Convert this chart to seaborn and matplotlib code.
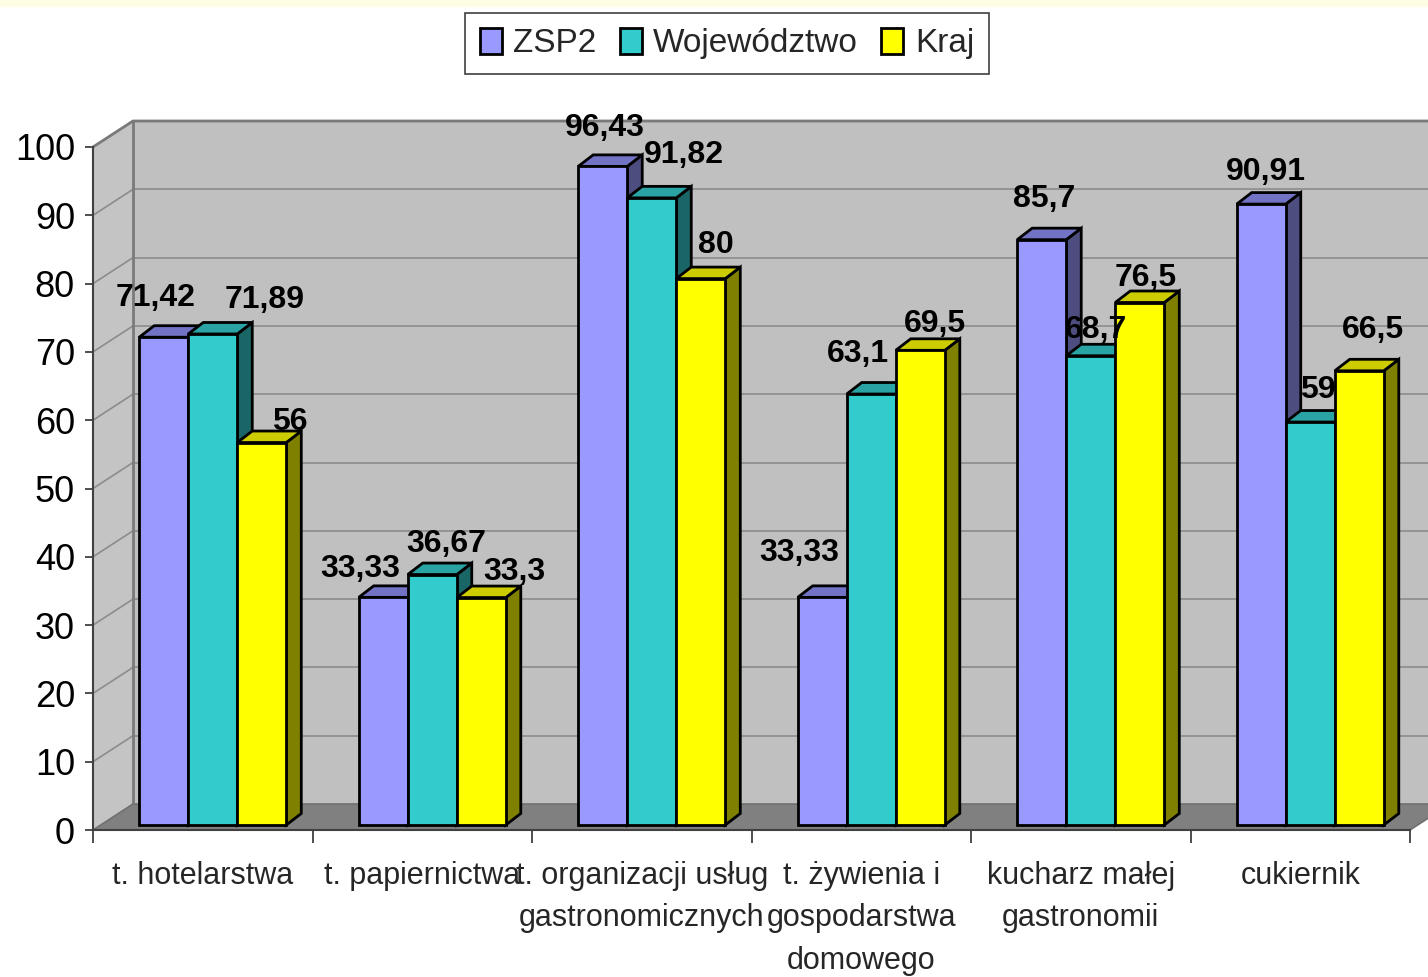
import matplotlib
matplotlib.use("Agg")
import matplotlib.pyplot as plt
from matplotlib import font_manager
from matplotlib.patches import Polygon, Patch, Rectangle
import numpy as np
import pandas as pd
import seaborn as sns

# ---------------- data ----------------
categories = [
    "t. hotelarstwa",
    "t. papiernictwa",
    "t. organizacji usług\ngastronomicznych",
    "t. żywienia i\ngospodarstwa\ndomowego",
    "kucharz małej\ngastronomii",
    "cukiernik",
]
series = ["ZSP2", "Województwo", "Kraj"]
zsp2 = [71.42, 33.33, 96.43, 33.33, 85.7, 90.91]
wojewodztwo = [71.89, 36.67, 91.82, 63.1, 68.7, 59]
kraj = [56, 33.3, 80, 69.5, 76.5, 66.5]
y_ticks = [0, 10, 20, 30, 40, 50, 60, 70, 80, 90, 100]

# ---------------- style ----------------
front_colors = ["#9999FF", "#33CCCC", "#FFFF00"]
top_colors = ["#7373C6", "#29A3A3", "#CCCC00"]
side_colors = ["#4D4D80", "#1A6666", "#808000"]
# label nudges in pixels (dx, dy above bar top), per category, per series
label_nudge_px = [
    [(-8, 31), (52, 26), (28, 13)],
    [(-23, 20), (14, 23), (33, 18)],
    [(2, 30), (32, 35), (15, 26)],
    [(-23, 36), (-13, 32), (15, 18)],
    [(2, 33), (5, 18), (6, 17)],
    [(5, 24), (8, 24), (14, 33)],
]

sns.set_theme(style="white")
plt.rcParams["font.family"] = ["Liberation Sans", "DejaVu Sans"]
available = {f.name for f in font_manager.fontManager.ttflist}
narrow = "Liberation Sans Narrow" in available

W, H = 1428, 977
fig = plt.figure(figsize=(W / 100, H / 100), dpi=100)
fig.patch.set_facecolor("white")
fig.patches.append(Rectangle((0, 1 - 6 / H), 1, 6 / H, transform=fig.transFigure,
                             color="#FFFCE6", zorder=0))

ax = fig.add_axes([93 / W, (H - 830) / H, 1317 / W, 683 / H])
ax.set_xlim(-0.5, 5.5)
ax.set_ylim(0, 100)
ax.set_facecolor("none")
PX = 6 / 1317      # data units per pixel (x)
PY = 100 / 683     # data units per pixel (y)

# walls
DX, DY = 40 * PX, 26 * PY
xl, xr = -0.5, 5.5
back = Polygon([(xl + DX, DY), (xr + 2 * DX, DY), (xr + 2 * DX, 100 + DY), (xl + DX, 100 + DY)],
               closed=True, fc="#C0C0C0", ec="none", zorder=1, clip_on=False)
left = Polygon([(xl, 0), (xl + DX, DY), (xl + DX, 100 + DY), (xl, 100)],
               closed=True, fc="#C4C4C4", ec="none", zorder=1, clip_on=False)
floor = Polygon([(xl, 0), (xr, 0), (xr + DX, DY), (xl + DX, DY)],
                closed=True, fc="#808080", ec="#707070", lw=1.2, zorder=1.5, clip_on=False)
for p in (back, left, floor):
    ax.add_patch(p)
for v in y_ticks[1:]:
    ax.plot([xl + DX, xr + 2 * DX], [v + DY, v + DY], color="#8C8C8C", lw=1.2, zorder=1.2, clip_on=False)
    ax.plot([xl, xl + DX], [v, v + DY], color="#8C8C8C", lw=1.2, zorder=1.2, clip_on=False)
ax.plot([xl, xl + DX, xr + 2 * DX], [100, 100 + DY, 100 + DY], color="#7A7A7A", lw=2, zorder=1.3, clip_on=False)
ax.plot([xl + DX, xl + DX], [DY, 100 + DY], color="#7A7A7A", lw=2, zorder=1.3, clip_on=False)

# bars
df = pd.DataFrame({
    "category": np.repeat(categories, 3),
    "series": series * len(categories),
    "value": np.ravel(np.column_stack([zsp2, wojewodztwo, kraj])),
})
sns.barplot(data=df, x="category", y="value", hue="series", hue_order=series,
            order=categories, palette=front_colors, saturation=1, width=0.67,
            edgecolor="black", linewidth=2, ax=ax, legend=False, errorbar=None)

SX, SY = 10 * PX, 5 * PY       # bar plane shift
BX, BY = 15 * PX, 11.5 * PY    # bar depth
for si, cont in enumerate(ax.containers):
    for ci, bar in enumerate(cont.patches):
        z = 10 + ci * 10 + si * 3
        bar.set_x(bar.get_x() + SX)
        bar.set_y(SY)
        bar.set_zorder(z + 2)
        bar.set_clip_on(False)
        x0 = bar.get_x(); x1 = x0 + bar.get_width()
        y0 = SY; y1 = SY + bar.get_height()
        side = Polygon([(x1, y0), (x1 + BX, y0 + BY), (x1 + BX, y1 + BY), (x1, y1)], closed=True,
                       fc=side_colors[si], ec="black", lw=2, zorder=z, clip_on=False, joinstyle="miter")
        top = Polygon([(x0, y1), (x1, y1), (x1 + BX, y1 + BY), (x0 + BX, y1 + BY)], closed=True,
                      fc=top_colors[si], ec="black", lw=2, zorder=z + 1, clip_on=False, joinstyle="miter")
        ax.add_patch(side); ax.add_patch(top)
        dxp, dyp = label_nudge_px[ci][si]
        val = bar.get_height()
        ax.text((x0 + x1) / 2 + dxp * PX, y1 + dyp * PY, f"{val:g}".replace(".", ","),
                ha="center", va="baseline", fontsize=23, fontweight="bold", color="black",
                zorder=200, clip_on=False)

# axes
ax.set_xlabel(""); ax.set_ylabel("")
for s in ("top", "right"):
    ax.spines[s].set_visible(False)
ax.spines["left"].set_color("#404040"); ax.spines["left"].set_linewidth(1.5)
ax.spines["bottom"].set_color("#404040"); ax.spines["bottom"].set_linewidth(1.5)
ax.spines["left"].set_zorder(3); ax.spines["bottom"].set_zorder(3)
ax.set_yticks(y_ticks)
ax.set_yticklabels([str(t) for t in y_ticks])
ax.tick_params(axis="y", left=True, length=6, width=1.3, color="#404040", pad=7,
               labelsize=26, labelcolor="black")
ax.set_xticks(np.arange(-0.5, 6, 1))
ax.set_xticklabels([])
ax.set_xticks(np.arange(len(categories)), minor=True)
cat_font = "Liberation Sans Narrow" if narrow else "Liberation Sans"
cat_size = 27 if narrow else 22
ax.set_xticklabels(categories, minor=True, fontsize=cat_size, family=cat_font,
                   linespacing=1.56, va="top")
ax.tick_params(axis="x", which="major", bottom=True, length=9, width=1.3, color="#404040", direction="out")
ax.tick_params(axis="x", which="minor", bottom=True, length=0, pad=22)

# legend
handles = [Patch(facecolor=c, edgecolor="black", linewidth=2) for c in front_colors]
leg = fig.legend(handles, series, loc="upper center", bbox_to_anchor=(727 / W, 1 - 13 / H),
                 ncol=3, fontsize=24, frameon=True, fancybox=False, edgecolor="#404040",
                 handlelength=0.65, handleheight=0.8, handletextpad=0.35, columnspacing=0.7,
                 borderpad=0.45, borderaxespad=0, framealpha=1)
leg.get_frame().set_linewidth(1.2)

fig.savefig("out.png", dpi=100)
